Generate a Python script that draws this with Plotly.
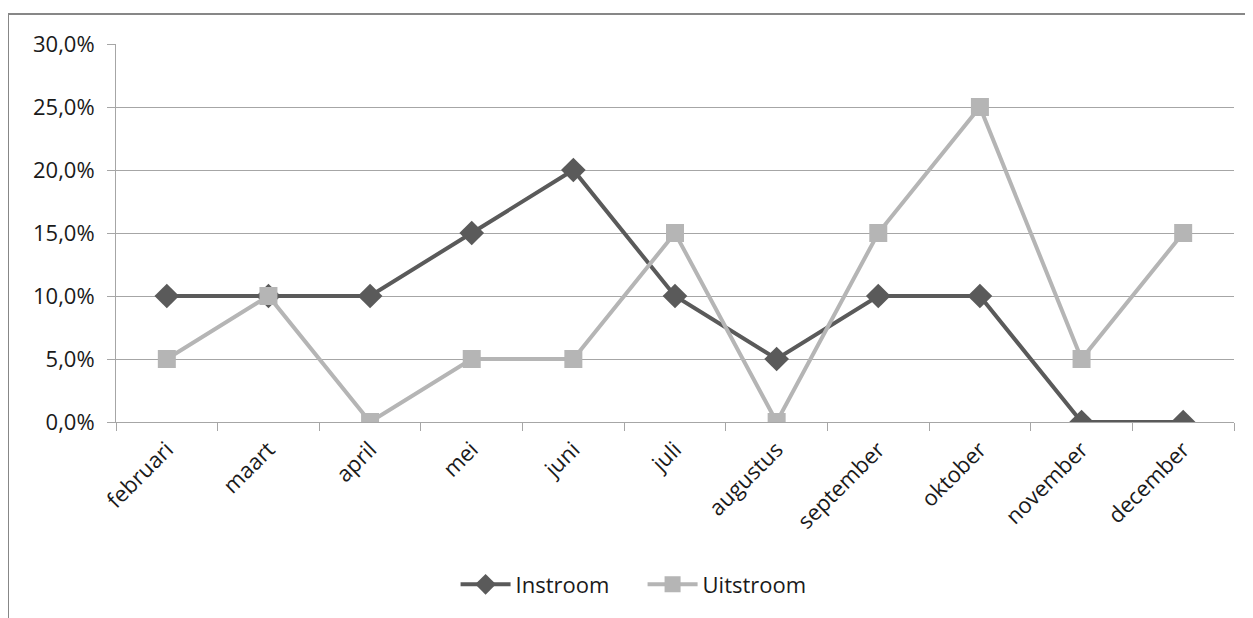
import plotly.graph_objects as go

maanden = ["februari", "maart", "april", "mei", "juni", "juli", "augustus",
           "september", "oktober", "november", "december"]
instroom = [10, 10, 10, 15, 20, 10, 5, 10, 10, 0, 0]
uitstroom = [5, 10, 0, 5, 5, 15, 0, 15, 25, 5, 15]
y_ticks = [0, 5, 10, 15, 20, 25, 30]
y_labels = ["0,0%", "5,0%", "10,0%", "15,0%", "20,0%", "25,0%", "30,0%"]

FONT = "Open Sans"
GRID = "#a6a6a6"

fig = go.Figure()
fig.add_trace(go.Scatter(
    x=maanden, y=instroom, name="Instroom", mode="lines+markers",
    line=dict(color="#5a5a5a", width=4),
    marker=dict(symbol="diamond", size=19, color="#5a5a5a"),
))
fig.add_trace(go.Scatter(
    x=maanden, y=uitstroom, name="Uitstroom", mode="lines+markers",
    line=dict(color="#b5b5b5", width=4),
    marker=dict(symbol="square", size=18, color="#b5b5b5"),
))

# page body adds an 8px offset, so the figure is sized/margined for that
fig.update_layout(
    width=1245, height=610,
    margin=dict(l=108, r=19, t=36, b=196),
    paper_bgcolor="white", plot_bgcolor="white",
    font=dict(family=FONT, size=22, color="#1a1a1a"),
    showlegend=True,
    legend=dict(orientation="h", x=0.471, xanchor="center", y=-0.43, yanchor="middle",
                font=dict(size=22), itemwidth=50, tracegroupgap=0,
                entrywidth=122),
)
fig.update_xaxes(
    type="category", range=[-0.5, 10.5],
    showline=True, linecolor=GRID, linewidth=1,
    ticks="outside", ticklen=8, tickcolor=GRID, tickson="boundaries",
    tickangle=-45, showgrid=False, tickfont=dict(size=22),
    ticklabelstandoff=5,
)
fig.update_yaxes(
    range=[0, 30], tickvals=y_ticks, ticktext=y_labels,
    showline=True, linecolor=GRID, linewidth=1,
    ticks="outside", ticklen=8, tickcolor=GRID,
    showgrid=True, gridcolor=GRID, gridwidth=1, zeroline=False,
    ticklabelstandoff=8, tickfont=dict(size=22),
)

# chart frame (top and left edges visible)
fig.add_shape(type="line", xref="paper", yref="paper",
              x0=-0.0966, x1=1.1, y0=1.0794, y1=1.0794,
              line=dict(color="#878787", width=2))
fig.add_shape(type="line", xref="paper", yref="paper",
              x0=-0.0966, x1=-0.0966, y0=1.0794, y1=-0.6,
              line=dict(color="#878787", width=2))

fig.write_html("out.html")
